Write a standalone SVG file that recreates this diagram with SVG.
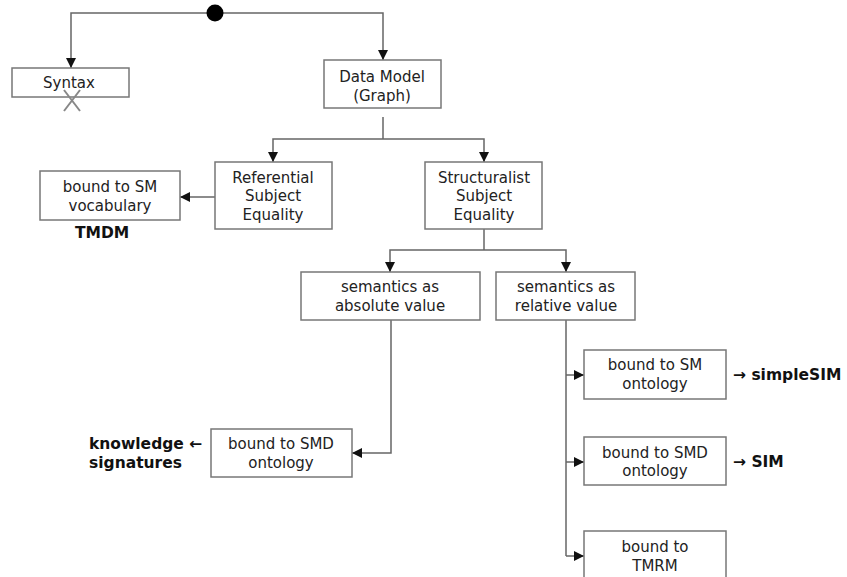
<svg xmlns="http://www.w3.org/2000/svg" width="847" height="577" viewBox="0 0 847 577">
<defs>
<marker id="ah" markerUnits="userSpaceOnUse" markerWidth="12" markerHeight="12" refX="10" refY="5" orient="auto">
<path d="M0,0 L10,5 L0,10 Z" fill="#111"/>
</marker>
<style>
.box{fill:#fff;stroke:#777;stroke-width:1.5}
.t{font-family:"DejaVu Sans",Verdana,sans-serif;font-size:15px;fill:#222;text-anchor:middle}
.b{font-family:"DejaVu Sans",Verdana,sans-serif;font-size:15.5px;font-weight:bold;fill:#111}
.c{fill:none;stroke:#666;stroke-width:1.5;marker-end:url(#ah)}
.p{fill:none;stroke:#666;stroke-width:1.5}
</style>
</defs>
<rect width="847" height="577" fill="#fff"/>
<g id="connectors">
<path class="c" d="M215,13 H71 V68"/>
<path class="c" d="M215,13 H383 V60"/>
<path class="p" d="M383,117 V139"/>
<path class="c" d="M383,139 H273 V162"/>
<path class="c" d="M383,139 H484 V162"/>
<path class="c" d="M215,197 H180"/>
<path class="p" d="M484,229 V250"/>
<path class="c" d="M484,250 H390 V272"/>
<path class="c" d="M484,250 H566 V272"/>
<path class="c" d="M391,320 V453 H352"/>
<path class="p" d="M566,320 V556"/>
<path class="c" d="M566,375 H584"/>
<path class="c" d="M566,462 H584"/>
<path class="c" d="M566,556 H584"/>
</g>
<g id="start"><circle cx="215" cy="13" r="8.5" fill="#000"/></g>
<g id="syntax">
<rect class="box" x="12" y="68" width="117" height="29"/>
<text class="t" x="69" y="88">Syntax</text>
<path d="M64,90 L80,111 M80,90 L64,111" stroke="#888" stroke-width="2"/>
</g>
<g id="datamodel">
<rect class="box" x="324" y="60" width="117" height="48"/>
<text class="t" x="382" y="82">Data Model</text>
<text class="t" x="382" y="101">(Graph)</text>
</g>
<g id="referential">
<rect class="box" x="215" y="162" width="117" height="67"/>
<text class="t" x="273" y="183">Referential</text>
<text class="t" x="273" y="201">Subject</text>
<text class="t" x="273" y="220">Equality</text>
</g>
<g id="smvocab">
<rect class="box" x="40" y="171" width="140" height="49"/>
<text class="t" x="110" y="192">bound to SM</text>
<text class="t" x="110" y="211">vocabulary</text>
<text class="b" x="75" y="238">TMDM</text>
</g>
<g id="structuralist">
<rect class="box" x="425" y="162" width="117" height="67"/>
<text class="t" x="484" y="183">Structuralist</text>
<text class="t" x="484" y="201">Subject</text>
<text class="t" x="484" y="220">Equality</text>
</g>
<g id="absolute">
<rect class="box" x="301" y="272" width="179" height="48"/>
<text class="t" x="390" y="292">semantics as</text>
<text class="t" x="390" y="311">absolute value</text>
</g>
<g id="relative">
<rect class="box" x="496" y="272" width="139" height="48"/>
<text class="t" x="566" y="292">semantics as</text>
<text class="t" x="566" y="311">relative value</text>
</g>
<g id="smdabs">
<rect class="box" x="211" y="429" width="141" height="48"/>
<text class="t" x="281" y="449">bound to SMD</text>
<text class="t" x="281" y="468">ontology</text>
<text class="b" x="89" y="449">knowledge ←</text>
<text class="b" x="89" y="468">signatures</text>
</g>
<g id="smont">
<rect class="box" x="584" y="350" width="142" height="49"/>
<text class="t" x="655" y="370">bound to SM</text>
<text class="t" x="655" y="389">ontology</text>
<text class="b" x="733" y="380">→ simpleSIM</text>
</g>
<g id="smdont">
<rect class="box" x="584" y="437" width="142" height="48"/>
<text class="t" x="655" y="458">bound to SMD</text>
<text class="t" x="655" y="476">ontology</text>
<text class="b" x="733" y="467">→ SIM</text>
</g>
<g id="tmrm">
<rect class="box" x="584" y="531" width="142" height="60"/>
<text class="t" x="655" y="552">bound to</text>
<text class="t" x="655" y="571">TMRM</text>
</g>
</svg>
